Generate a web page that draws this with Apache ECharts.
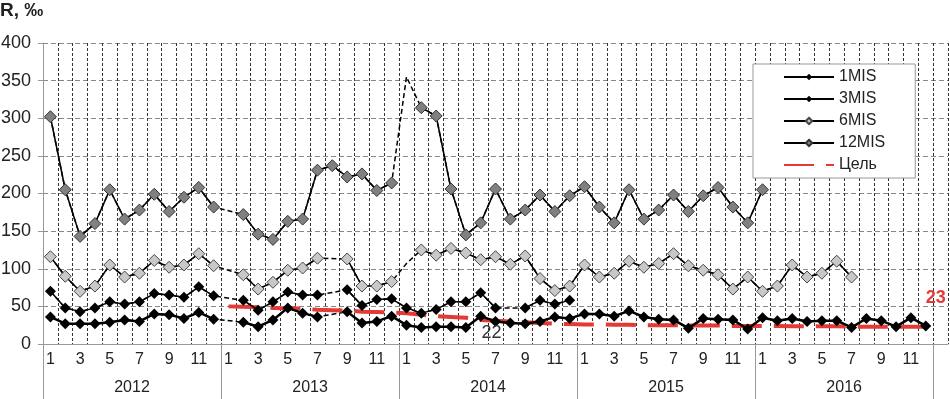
<!DOCTYPE html>
<html>
<head>
<meta charset="utf-8">
<script src="https://cdn.jsdelivr.net/npm/echarts@6/dist/echarts.min.js"></script>
<style>
html, body { margin: 0; padding: 0; background: #fff; }
#chart { width: 950px; height: 399px; }
</style>
</head>
<body>
<div id="chart"></div>
<script>
// подписи осей
const years = ['2012', '2013', '2014', '2015', '2016']
const months = ['1', '2', '3', '4', '5', '6', '7', '8', '9', '10', '11', '12']

// значения R, ‰ по месяцам (null - нет данных)
const mis1 = [
  36, 27, 27, 27, 29, 32, 30, 40, 39, 34, 42, 33,
  null, 29, 23, 32, 48, 41, 36, null, 43, 28, 30, 37,
  25, 22, 23, 23, 22, 37, 30, 28, 27, 30, 36, 34,
  40, 40, 37, 44, 36, 33, 32, 21, 34, 33, 32, 20,
  35, 31, 34, 30, 31, 31, 22, 34, 31, 23, 35, 24
]
const mis3 = [
  70, 48, 43, 48, 56, 53, 56, 67, 65, 62, 76, 64,
  null, 58, 45, 56, 69, 65, 65, null, 72, 51, 59, 60,
  48, 41, 46, 56, 56, 68, 48, null, 48, 58, 53, 58
]
const mis6 = [
  116, 90, 70, 77, 105, 89, 94, 111, 102, 105, 120, 104,
  null, 92, 73, 82, 98, 101, 114, null, 113, 77, 77, 83,
  null, 125, 118, 127, 121, 112, 116, 106, 117, 87, 71, 77,
  105, 89, 94, 110, 102, 107, 120, 104, 98, 92, 73, 89,
  70, 77, 105, 89, 94, 110, 89
]
const mis12 = [
  302, 205, 143, 160, 205, 166, 178, 199, 176, 195, 208, 182,
  null, 172, 146, 139, 163, 166, 231, 237, 222, 226, 204, 214,
  null, 314, 303, 206, 145, 161, 206, 166, 178, 198, 176, 197,
  209, 182, 161, 205, 166, 178, 198, 176, 197, 208, 182, 161,
  205
]
// оценочные точки на пунктирных участках [индекс месяца, значение]
const mis6Est = [[24, 107]]
const mis12Est = [[24, 355]]

const target = [
  null, null, null, null, null, null, null, null, null, null, null, null,
  50, 49.5, 49, 48, 47.5, 47, 45.5, 45, 44.5, 43, 42.5, 42,
  41, 39, 37, 36, 35, 32, 31, 30, 29, 28, 27, 26.5,
  26, 26, 25.5, 25.5, 25, 25, 25, 24.5, 24.5, 24.5, 24, 24,
  24, 24, 23.5, 23.5, 23.5, 23.5, 23, 23, 23, 23, 23, 23
]
// подписи на линии цели [индекс, текст]
const targetNotes = [[30, '22'], [59, '23']]

const font = 'Liberation Sans, Arial, sans-serif'
const red = '#e53935'

let categories = []
years.forEach(() => { categories = categories.concat(months) })
categories.push('')

const yearTicks = []
const yearMid = []
for (let i = 0; i <= years.length; i++) {
  yearTicks.push(i * 12)
  if (i < years.length) yearMid.push(i * 12 + 6)
}

// пунктир через пропуски
function bridge (data, est) {
  const out = data.slice()
  est.forEach(([i, v]) => { out[i] = v })
  return out
}

function gapLine (name, data) {
  return {
    name: name + '_gap',
    type: 'line',
    data: data,
    connectNulls: true,
    symbol: 'none',
    silent: true,
    lineStyle: { color: '#000', width: 1.5, type: [5, 3] },
    z: 2
  }
}

function mainLine (name, data, width, fill, border, size) {
  return {
    name: name,
    type: 'line',
    data: data,
    symbol: 'diamond',
    symbolSize: size,
    showAllSymbol: true,
    connectNulls: false,
    lineStyle: { color: '#000', width: width },
    itemStyle: { color: fill, borderColor: border || fill, borderWidth: border ? 1 : 0 },
    z: 4
  }
}

const chart = echarts.init(document.getElementById('chart'), null, { renderer: 'canvas' })

chart.setOption({
  animation: false,
  backgroundColor: '#fff',
  textStyle: { fontFamily: font },
  title: {
    text: 'R, ‰',
    left: 0,
    top: 1,
    padding: 0,
    textStyle: { fontSize: 19, fontWeight: 'bold', color: '#222', fontFamily: font }
  },
  grid: {
    left: 43,
    right: 2,
    top: 43,
    bottom: 55,
    containLabel: false,
    outerBoundsMode: 'none'
  },
  legend: {
    orient: 'vertical',
    left: 753,
    top: 64,
    padding: [5, 30, 5, 30],
    itemWidth: 50,
    itemHeight: 8,
    itemGap: 6,
    backgroundColor: '#fff',
    borderColor: '#999',
    borderWidth: 1,
    textStyle: { fontSize: 16, color: '#222', fontFamily: font },
    data: ['1MIS', '3MIS', '6MIS', '12MIS', { name: 'Цель', itemStyle: { opacity: 0 } }]
  },
  xAxis: [
    {
      type: 'category',
      data: categories,
      boundaryGap: true,
      position: 'bottom',
      axisLine: { lineStyle: { color: '#999' } },
      axisTick: { interval: 0, length: 27, lineStyle: { color: '#999' } },
      axisLabel: { interval: 1, margin: 8, fontSize: 16, color: '#222', fontFamily: font },
      splitLine: { show: true, interval: 0, lineStyle: { color: '#333', type: [3, 2] } }
    },
    {
      type: 'value',
      min: 0,
      max: categories.length,
      position: 'bottom',
      axisLine: { show: false },
      splitLine: { show: false },
      axisTick: { show: true, customValues: yearTicks, length: 55, lineStyle: { color: '#999' } },
      axisLabel: {
        customValues: yearMid,
        formatter: (v) => years[Math.floor(v / 12)],
        margin: 36,
        fontSize: 16,
        color: '#222',
        fontFamily: font
      }
    }
  ],
  yAxis: {
    type: 'value',
    min: 0,
    max: 400,
    interval: 50,
    axisLine: { show: true, lineStyle: { color: '#999' } },
    axisTick: { show: true, length: 5, lineStyle: { color: '#999' } },
    axisLabel: { fontSize: 18, color: '#222', margin: 12, fontFamily: font },
    splitLine: { lineStyle: { color: '#888', type: [5, 3] } }
  },
  series: [
    gapLine('12MIS', bridge(mis12, mis12Est)),
    gapLine('6MIS', bridge(mis6, mis6Est)),
    gapLine('3MIS', mis3),
    gapLine('1MIS', mis1),
    {
      name: 'Цель',
      type: 'line',
      data: target,
      symbol: 'none',
      lineStyle: { color: red, width: 4, type: [30, 12], cap: 'butt' },
      itemStyle: { color: red },
      z: 3,
      markPoint: {
        symbol: 'circle',
        symbolSize: 0,
        silent: true,
        data: targetNotes.map(([i, text]) => ({
          coord: [i, target[i]],
          value: text,
          label: i === 59
            ? { show: true, position: 'top', distance: 5, offset: [10, -15], formatter: text, color: red, fontWeight: 'bold', fontSize: 18, fontFamily: font }
            : { show: true, position: 'bottom', distance: 3, offset: [-4, 0], formatter: text, color: '#333', fontSize: 18, fontFamily: font }
        }))
      }
    },
    mainLine('12MIS', mis12, 1.5, '#808080', '#333', 12),
    mainLine('6MIS', mis6, 1.5, '#c8c8c8', '#444', 12),
    mainLine('3MIS', mis3, 1.5, '#000', null, 11),
    mainLine('1MIS', mis1, 2.5, '#000', null, 11)
  ]
})
</script>
</body>
</html>
